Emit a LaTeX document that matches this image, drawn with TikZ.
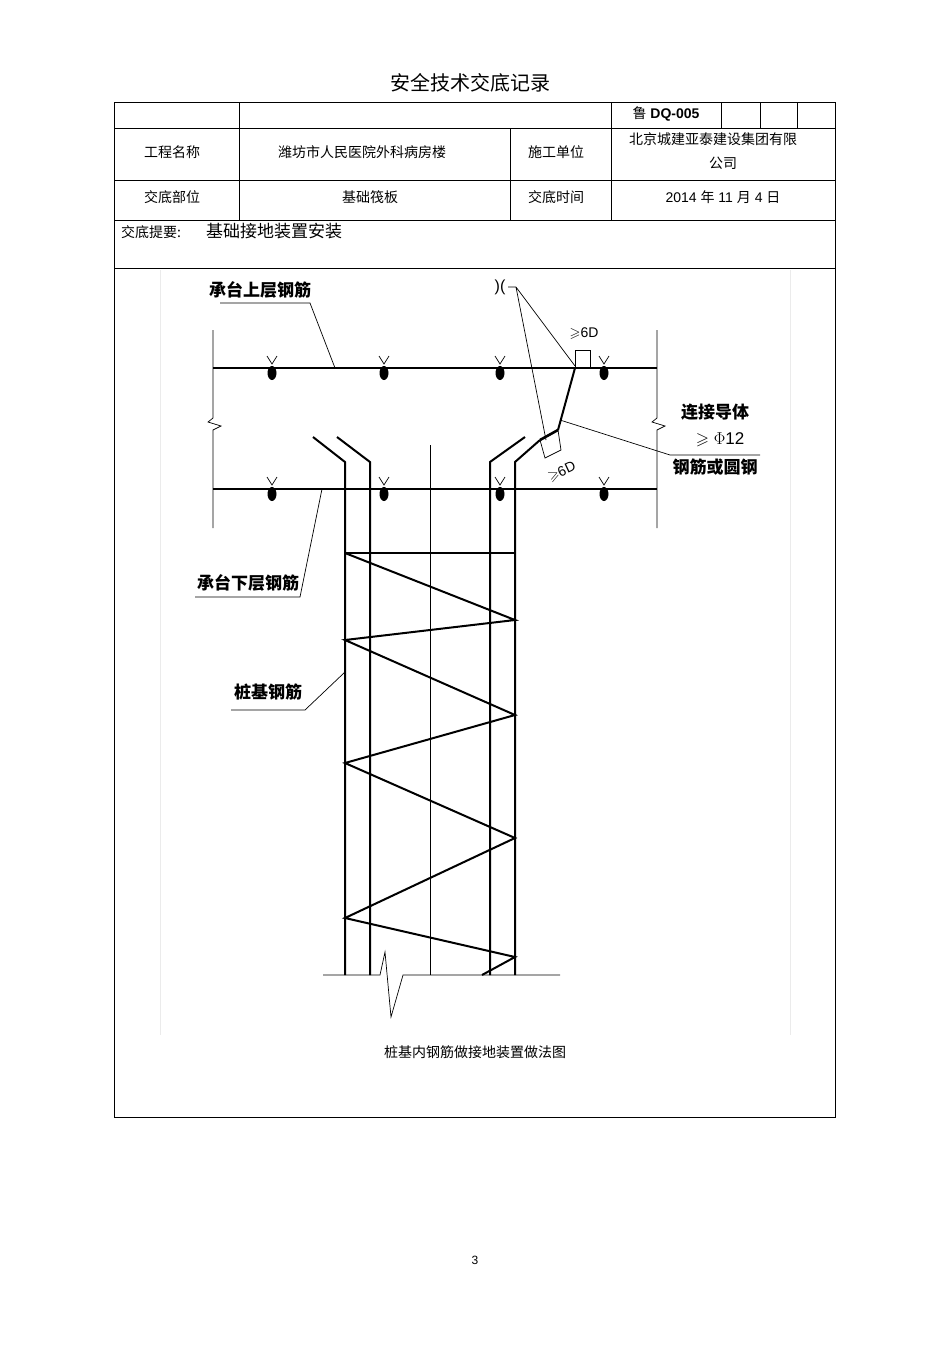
\documentclass[tikz,border=0pt]{standalone}
\usepackage{amssymb}
\usepackage{fontspec}
\setmainfont{Liberation Sans}
\newfontfamily\cjk{Noto Sans CJK SC}
\begin{document}
\begin{tikzpicture}[x=1pt,y=-1pt,
  tl/.style={line width=1pt},
  thk/.style={line width=2pt},
  bar/.style={line width=2.6pt},
  thin/.style={line width=0.7pt},
  lbl/.style={inner sep=0pt,font=\cjk\fontsize{14}{16}\selectfont},
  dl/.style={inner sep=0pt,font=\cjk\fontsize{17}{19}\selectfont\bfseries}]
\useasboundingbox[fill=white] (0,0) rectangle (950,1345);
\node[inner sep=0pt,font=\cjk\fontsize{20}{22}\selectfont] (title) at (470,83) {安全技术交底记录};
% table
\draw[thin] (114,102) -- (835,102);
\foreach \x in {239,611,721,760,797} \draw[thin] (\x,102) -- (\x,128);
\draw[tl] (114,102) -- (114,1117) -- (835,1117) -- (835,102);
\foreach \y in {128,180,220,268} \draw[tl] (114,\y) -- (835,\y);
\foreach \x in {239,510,611} \draw[tl] (\x,128) -- (\x,220);
\node[inner sep=0pt,font=\fontsize{14}{16}\selectfont\bfseries] (code) at (666,114) {{\cjk\mdseries 鲁} DQ-005};
\node[lbl] (a1) at (172,152) {工程名称};
\node[lbl] (a2) at (362,152) {潍坊市人民医院外科病房楼};
\node[lbl] (a3) at (556,152) {施工单位};
\node[lbl] (a4) at (713,139) {北京城建亚泰建设集团有限};
\node[lbl] (a5) at (723,163) {公司};
\node[lbl] (b1) at (172,197) {交底部位};
\node[lbl] (b2) at (370,197) {基础筏板};
\node[lbl] (b3) at (556,197) {交底时间};
\node[inner sep=0pt,font=\fontsize{14}{16}\selectfont] (b4) at (723,197) {2014 {\cjk 年} 11 {\cjk 月} 4 {\cjk 日}};
\node[lbl,anchor=west] (c1) at (121,232) {交底提要:};
\node[inner sep=0pt,anchor=west,font=\cjk\fontsize{17}{19}\selectfont] (c2) at (206,231) {基础接地装置安装};
% drawing frame
\draw[black!8] (160,270) -- (160,1035) (790,270) -- (790,1035);
% walls
\draw[thin] (213,330) -- (213,418) -- (208,422) -- (221,426) -- (213,430) -- (213,528);
\draw[thin] (657,330) -- (657,418) -- (652,422) -- (665,426) -- (657,430) -- (657,528);
\draw[bar] (213,368) -- (657,368);
\draw[bar] (213,489) -- (657,489);
\foreach \x in {272,384,500,604} \foreach \y in {368,489} {
  \fill (\x,\y+5) ellipse (4.5 and 7);
  \draw[thin] (\x-5,\y-12) -- (\x,\y-4) -- (\x+5,\y-12);}
% pile bars
\draw[thk] (313,437) -- (345,462) -- (345,975);
\draw[thk] (337,437) -- (370,462) -- (370,975);
\draw[thin] (430,445) -- (430,975);
\draw[thk] (525,437) -- (490,462) -- (490,975);
\draw[thk] (540,440) -- (515,462) -- (515,975);
% connection
\draw[bar] (540,440) -- (558,430);
\draw[thk] (558,430) -- (575,368);
\draw[bar] (575,368) -- (590,368);
\draw[thin] (575,368) -- (575,350) -- (590,350) -- (590,368);
\draw[thin] (540,440) -- (545,458) -- (561,450) -- (558,430);
\node[inner sep=0pt,font=\fontsize{14}{16}\selectfont] (g1) at (584,334) {$\geqslant$6D};
\node[inner sep=0pt,rotate=25,font=\fontsize{14}{16}\selectfont] (g2) at (562,472) {$\geqslant$6D};
% spiral
\draw[bar] (345,553) -- (515,553);
\draw[thk] (345,553) -- (515,620) -- (345,640) -- (515,715) -- (345,763) -- (515,838) -- (345,918) -- (515,957) -- (482,975);
% base
\draw[thin] (323,975) -- (380,975) -- (385,952) -- (391,1017) -- (403,975) -- (560,975);
% labels
\node[dl] (l1) at (260,290) {承台上层钢筋};
\draw[thin] (220,303) -- (310,303) -- (335,368);
\node[dl] (l2) at (248,583) {承台下层钢筋};
\draw[thin] (195,597) -- (300,597) -- (322,489);
\node[dl] (l3) at (268,692) {桩基钢筋};
\draw[thin] (231,710) -- (305,710) -- (345,672);
\node[inner sep=0pt,font=\fontsize{16}{18}\selectfont] (w) at (500,287) {)(};
\draw[thin] (508,287) -- (516,287) -- (575,366) (516,287) -- (546,440);
\node[dl] (l4) at (715,412) {连接导体};
\node[inner sep=0pt,font=\fontsize{17}{19}\selectfont] (l5) at (720,440) {$\geqslant\Phi$12};
\draw[thin] (560,420) -- (670,455) -- (760,455);
\node[dl] (l6) at (715,467) {钢筋或圆钢};
\node[lbl] (cap) at (475,1052) {桩基内钢筋做接地装置做法图};
\node[inner sep=0pt,font=\fontsize{12}{14}\selectfont] (pg) at (475,1260) {3};
\end{tikzpicture}
\end{document}
